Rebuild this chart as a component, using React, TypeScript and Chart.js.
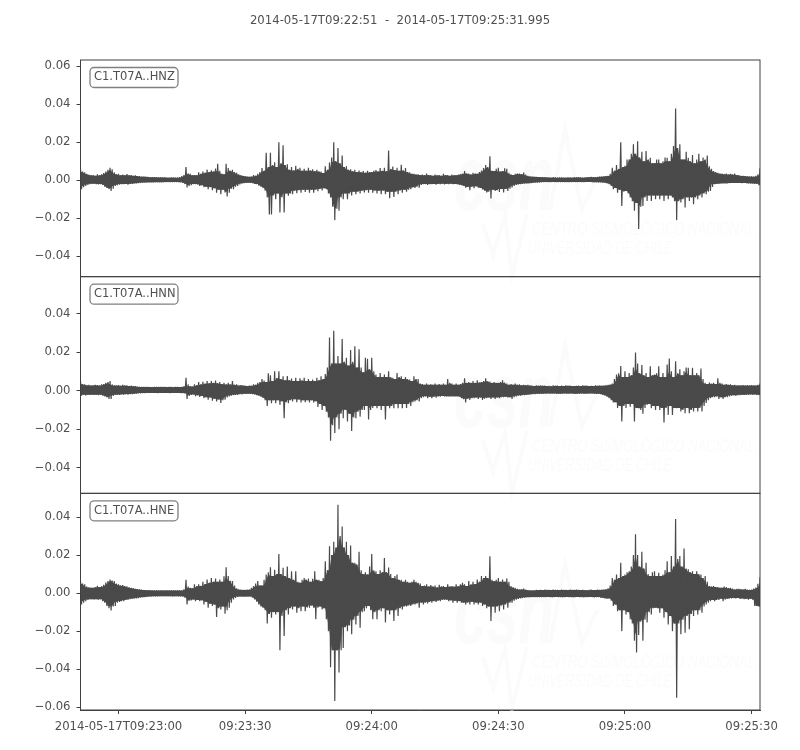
import React, { useEffect, useRef } from "react";
import { Chart, registerables } from "chart.js";

Chart.register(...registerables);

const TITLE = "2014-05-17T09:22:51  -  2014-05-17T09:25:31.995";
const CHANNELS = ["C1.T07A..HNZ", "C1.T07A..HNN", "C1.T07A..HNE"];
const TICK_SECONDS = [9, 39, 69, 99, 129, 159];
const TICK_LABELS = ["2014-05-17T09:23:00", "09:23:30", "09:24:00", "09:24:30", "09:25:00", "09:25:30"];
const Y_TICKS = [
  [0.06, 0.04, 0.02, 0, -0.02, -0.04],
  [0.04, 0.02, 0, -0.02, -0.04],
  [0.04, 0.02, 0, -0.02, -0.04, -0.06],
];
const Y_RANGES = [
  [-0.0508, 0.0634],
  [-0.0533, 0.0591],
  [-0.0615, 0.0525],
];
const SAMPLE_SECONDS = 0.5;

// Envelope of each trace, one value per half second (ten seconds a row), in thousandths of the axis unit.
const hnzUpper = [
  5.8,4.6,4.2,3.4,3.0,2.6,2.8,2.4,3.1,2.6,3.2,3.8,4.6,5.6,6.6,5.8,4.2,3.2,3.4,2.6,
  3.0,2.6,3.3,2.6,2.8,2.4,2.6,2.2,2.2,1.9,1.9,1.8,1.8,1.6,1.7,1.6,1.6,1.5,1.5,1.5,
  1.6,1.4,1.4,1.5,1.5,1.4,1.4,1.6,2.2,2.8,7.0,3.6,3.4,2.6,2.8,2.6,4.2,3.4,4.6,4.0,
  5.6,4.4,5.3,4.6,6.2,8.7,5.0,3.6,3.2,8.7,6.4,5.0,5.6,4.4,4.0,3.2,2.8,2.4,2.2,2.0,
  1.8,2.0,2.8,2.4,3.4,4.4,6.4,5.0,14.5,7,14.5,8,9.5,7,20,9,18.5,8,8.4,5.5,
  7.0,5.2,7.6,6.0,6.6,5.0,6.0,5.0,6.6,5.2,5.8,4.8,5.6,4.6,4.6,3.8,7.4,5.6,9.4,12,
  20,10,17,9,13,7,7.4,5.5,5.8,4.8,5.6,4.4,5.2,4.2,4.9,4.0,5.0,4.2,4.4,5.0,
  5.4,4.6,6.4,5.0,6.6,4.8,15.7,6,7.2,5.4,6.6,5.0,8.2,5.2,6.4,4.4,4.2,3.4,3.4,3.0,
  3.2,2.8,3.0,2.6,3.6,2.8,2.8,2.4,3.0,2.6,2.8,2.4,3.4,2.8,2.8,2.4,3.0,2.6,2.6,3.0,
  3.2,3.6,4.9,3.6,3.6,3.0,4.0,3.6,3.4,4.4,5.2,6.4,8.0,7.0,12.6,5.0,4.9,6.0,6.6,4.6,
  4.9,6.3,6.0,4.0,3.2,2.8,3.4,3.6,3.6,3.2,4.1,3.0,2.3,2.1,1.9,1.8,1.8,1.7,1.7,1.6,
  1.6,1.5,1.5,1.4,1.6,1.5,1.4,1.5,1.5,1.4,1.4,1.5,1.5,1.4,1.6,1.5,1.6,1.5,1.4,1.5,
  1.7,1.6,1.8,1.7,1.6,1.8,1.9,2.0,2.1,2.2,2.3,3.4,6.6,5,8,6,20,7,7.6,11,
  11,14,19,14,20.6,12,15,10,15.4,11,11.9,9,9.1,11,10.9,9,10,12,11.9,10,
  14,18,37.8,17,19,11,11,15,11.9,10,13.3,9,11,14,10,12,11,13,7.4,6,
  4.9,4.4,4.0,3.6,3.5,3.2,3.6,3.0,3.4,3.0,3.5,2.8,2.8,2.4,2.3,2.2,2.1,2.0,2.1,1.9,
  2.3,3.2,6.3,
];
const hnzLower = [
  -4.7,-3.6,-3.0,-2.4,-2.1,-1.8,-1.8,-2.0,-2.2,-2.0,-2.5,-3.4,-4.0,-4.6,-5.6,-4.4,-3.0,-2.6,-2.3,-2.0,
  -2.1,-1.9,-2.3,-1.9,-1.9,-1.7,-1.7,-1.5,-1.4,-1.3,-1.2,-1.2,-1.1,-1.1,-1.1,-1.0,-1.0,-1.0,-1.0,-1.0,
  -1.0,-0.9,-0.9,-1.0,-1.0,-0.9,-1.0,-1.0,-1.4,-2.0,-3.8,-3.0,-2.6,-2.0,-2.0,-2.2,-3.0,-2.6,-3.6,-3.4,
  -4.7,-3.6,-5.2,-4.2,-6.5,-5,-7.3,-5,-6.4,-8.6,-6.6,-4.5,-4.7,-3.4,-3.0,-2.2,-1.8,-1.5,-1.4,-1.3,
  -1.3,-1.5,-1.9,-2.0,-2.8,-3.4,-4.0,-5.5,-9,-18,-18,-8,-10,-7,-17,-9,-17,-7,-8.2,-7,
  -7.4,-5.5,-6.8,-5.2,-6.5,-5,-6.1,-5,-6.6,-5,-6.5,-5,-5.8,-4.6,-5.4,-4.2,-4.7,-7,-9,-14,
  -21,-15,-16,-9,-10,-7,-10,-7,-8,-6,-7.4,-6,-7,-5.5,-6.4,-5.2,-6.5,-5,-6.6,-5.4,
  -7,-5.5,-7.4,-5.4,-7.4,-6,-9.5,-6,-8.8,-6,-7.4,-5.4,-6.6,-5,-6,-5,-4.7,-3.8,-4,-3.4,
  -3.9,-2.4,-2.1,-2.0,-2.4,-2.0,-2.1,-1.9,-2.3,-1.9,-2,-1.8,-2.2,-1.9,-2,-1.8,-2.1,-1.9,-2.1,-2.3,
  -2.6,-3,-3.9,-3.5,-5.2,-3.4,-4.2,-3.2,-3.9,-4,-4.9,-5.5,-6.4,-6,-9.6,-5,-5.6,-5.2,-6.2,-4.6,
  -6.4,-4.6,-5.6,-4.4,-3.8,-3,-2.5,-2.2,-2.1,-1.9,-1.8,-1.6,-1.7,-1.5,-1.4,-1.3,-1.2,-1.1,-1,-1,
  -0.9,-0.9,-1,-0.9,-0.9,-1,-0.9,-0.9,-1,-0.9,-0.9,-0.9,-1,-0.9,-0.9,-1,-0.9,-0.9,-1,-0.9,
  -0.9,-0.9,-1.0,-1.0,-1.0,-1.1,-1.1,-1.2,-1.3,-1.6,-2.1,-3,-4.7,-4,-6.5,-5,-13.5,-6,-5.6,-7,
  -9.1,-11,-16,-12,-25.7,-14,-13.5,-9,-10.9,-8,-10.9,-8,-10,-8,-10,-8,-10.9,-8,-10,-8,
  -9.1,-11,-21,-11,-11.7,-10,-14.3,-9,-10.9,-9,-12.6,-9,-10,-8,-9.1,-7,-7.4,-6,-5.6,-3.5,
  -2.1,-1.9,-1.9,-1.7,-1.7,-1.6,-1.6,-1.5,-1.4,-1.4,-1.4,-1.4,-1.4,-1.5,-1.4,-1.5,-1.6,-1.7,-1.7,-1.8,
  -1.8,-2.6,-4.7,
];

const hnnUpper = [
  4.9,3.4,3.2,2.8,3.0,2.6,2.8,3.0,2.9,2.6,3.2,3.4,4.0,4.4,4.9,3.2,2.6,2.6,2.9,2.5,
  3.0,2.6,2.7,2.4,2.6,2.3,2.3,2.1,2.0,1.9,1.9,2.0,1.9,1.8,1.8,1.9,1.9,2.0,2.0,1.9,
  1.9,1.8,2.0,1.9,1.8,1.9,1.9,1.8,2.0,2.2,6.6,3.2,2.3,2.1,3.2,2.8,4.4,3.2,4.6,3.6,
  4.9,3.8,5.0,4.0,5.2,3.8,4.4,3.4,4.0,3.2,4.0,3.2,4.9,3.0,3.2,2.6,2.8,2.6,2.6,2.4,
  2.6,2.5,3.2,3.0,4.0,4.4,6.0,5.2,4.4,9,8.0,5,10,6.5,10,6,7.4,5.4,7.6,5.4,
  6.3,5,6.6,5,6.4,5.2,6.6,5,6.0,5,5.8,5,6.6,5.4,7.4,6,8.6,12,27.6,14,
  31,14,18,14,26.8,15,17,13,21,15,23,12,21.5,12,9.5,17,16.5,11,17,10,
  8.4,7,9.1,7,8.4,7,10,7,6.6,6,9.1,7,7.4,6,7,6,5.8,5,7.4,6,
  6,3.7,3.4,3.0,3.7,3.0,3.3,3.0,3.7,3.0,3.4,3.0,3.6,3.0,6,4.0,3.7,3.0,3.7,3.0,
  3.4,4,6.4,4,4.4,4,4.9,4,5.4,4.2,4.4,5,6.4,4.8,4.7,4,4.4,4,4.0,4.4,
  5.4,4.2,3.7,3.0,3.4,3.0,3.7,3.0,3.2,2.8,3.0,2.8,3.0,2.6,2.6,2.4,2.7,2.5,2.6,2.5,
  2.6,2.4,2.5,2.3,2.7,2.5,2.6,2.4,2.6,2.4,2.7,2.5,2.6,2.4,2.4,2.5,2.6,2.4,2.7,2.5,
  2.6,2.4,2.5,2.4,2.7,2.5,2.6,2.5,2.6,2.7,3.0,3.2,3.7,6,8.4,9,12.8,7,10,7,
  9.1,8,12,19.8,14,9,13.3,8,9.1,7,12.6,8,8.4,9,12.6,7,9.1,7,13.5,16.6,
  10,7,15.2,9,11,8,10,12,11.9,8,11.9,8,9.1,8,11.4,6,4.0,3.4,4.2,3.5,
  4.0,3.4,6.4,4,3.7,3,3.4,3,3.2,2.8,3,2.6,2.8,2.6,2.9,2.6,2.7,2.6,2.8,2.6,
  2.6,3,3.7,
];
const hnnLower = [
  -2.6,-2.2,-2.5,-2.2,-2.3,-2.1,-2.3,-2.1,-2.4,-2.2,-2.6,-3,-3.4,-4.3,-4.3,-2.8,-2.3,-2.1,-2.2,-2,
  -2.1,-1.9,-2.1,-1.8,-1.9,-1.7,-1.6,-1.5,-1.4,-1.3,-1.3,-1.2,-1.2,-1.2,-1.2,-1.2,-1.3,-1.2,-1.2,-1.2,
  -1.2,-1.2,-1.3,-1.2,-1.2,-1.2,-1.2,-1.3,-1.3,-1.5,-4.3,-2.8,-2.3,-2,-2.9,-2.4,-3.3,-2.8,-4,-3.4,
  -4.7,-3.6,-5.2,-4.2,-5.7,-4.6,-6.4,-5,-4.7,-3.6,-3.0,-2.6,-2.4,-2.2,-2.2,-1.9,-2,-1.7,-1.7,-1.6,
  -1.6,-1.8,-2,-2.4,-2.7,-3.2,-3.8,-5,-8,-5,-6.5,-5,-6.5,-5,-7.4,-5.5,-14.3,-6,-6.5,-5,
  -5.6,-4.5,-6,-4.6,-6.1,-5,-6,-5,-6.1,-5,-6.1,-5.5,-8.5,-7,-10,-8,-11,-14,-26,-18,
  -22,-14,-20,-12,-14.3,-10,-16,-12,-21,-14,-14.3,-11,-13.5,-10,-10,-8,-15,-10,-9,-8,
  -9.1,-8,-10,-8,-15,-8,-9.1,-8,-9.1,-7,-9.1,-7,-9.1,-7,-9,-7,-8,-6,-5.6,-5,
  -5.6,-4,-3.4,-3,-3.9,-3.2,-3.9,-3.2,-3.7,-3,-3.2,-2.8,-3,-3,-3,-3,-3.1,-3,-3,-3.2,
  -4,-4.5,-6.1,-4.2,-4.9,-4,-3.9,-3.6,-4.4,-3.6,-4.9,-4.2,-4,-3.6,-4.4,-3.6,-4.4,-3.6,-3.9,-3.4,
  -3.4,-3.2,-3.6,-3.4,-4.4,-3.4,-3,-2.7,-2.6,-2.4,-2.4,-2.2,-2.1,-2,-1.9,-1.8,-1.7,-1.6,-1.6,-1.6,
  -1.6,-1.5,-1.6,-1.6,-1.5,-1.6,-1.6,-1.7,-1.6,-1.5,-1.6,-1.6,-1.5,-1.6,-1.6,-1.7,-1.6,-1.5,-1.6,-1.6,
  -1.6,-1.5,-1.5,-1.6,-1.7,-1.7,-1.9,-2.2,-2.6,-3.2,-3.9,-5,-6.1,-6,-9,-8,-16,-8,-9,-7,
  -8.4,-7,-16,-9,-9.1,-10,-12,-9,-7.4,-7,-9.1,-8,-10,-8,-10,-9,-16.6,-9,-12.6,-8,
  -12.6,-9,-9.1,-9,-10.9,-10,-11.7,-9,-11.7,-10,-10.9,-9,-10.9,-9,-10.9,-8,-6.4,-5,-4,-3.4,
  -3.4,-3,-4.4,-3.4,-4.4,-3.4,-3.4,-3,-2.6,-2.4,-2.6,-2.4,-2.4,-2.2,-2.2,-2.1,-2.1,-2,-2.1,-2,
  -2.2,-2.3,-2.6,
];

const hneUpper = [
  6.3,5,4.6,3.4,3.0,2.8,2.8,3.2,3.8,3.2,3.6,4.4,5.6,6.4,7.2,6.6,6.3,5,4.6,4,
  4.3,3.6,3.6,3,2.8,2.6,2.3,2.1,2,1.8,1.6,1.6,1.5,1.5,1.5,1.4,1.4,1.5,1.5,1.4,
  1.4,1.5,1.5,1.4,1.4,1.5,1.4,1.5,1.4,2,7,3.4,2.8,2.5,4.6,3.6,4.6,3.8,5.9,4.8,
  7.2,5.4,8,6,7.7,6,7.2,6,8.8,13.6,9,6.5,6.3,4,2.5,2,1.8,1.7,1.7,1.8,
  1.9,2.8,3.7,5,6.3,4,4,7,9.8,11,13.6,9,12.3,10,20.6,10,13.3,9,14,8,
  11.5,7,11.5,6,5.4,7,8,7,7.7,6,7.5,11.5,7,7,6.3,8,16.8,12,24.7,20,
  27,24,46.5,30,35,24,27,20,25,16,16,15,21.7,12,10,11,9.8,14,20.6,12,
  11.5,10,12,11,18.5,11,13.5,10,8,9,9.8,7,7,6,7,6,5.4,6,7,6,
  5.4,5,3.7,4,4.6,3.5,4.3,3.5,4,3,4.4,3.5,3.7,3.2,4.6,3.5,3.7,3.4,4.6,3.6,
  4.6,5.4,4.6,3.7,6.3,4.5,5.9,4.8,7.2,6,9,8,9,8,19.4,7,6.3,7,8,6,
  7.2,6,7.7,6,3.7,3,2.8,2.2,1.9,2,2.4,1.9,1.6,1.5,1.4,1.5,1.7,1.6,1.7,1.6,
  1.8,1.7,1.7,1.6,1.8,1.7,1.7,1.6,1.8,1.7,1.7,1.6,1.8,1.7,1.7,1.8,1.7,1.6,1.7,1.6,
  1.5,1.7,1.8,1.6,1.6,1.8,1.7,1.8,1.9,2,2.5,4,8,7,9.8,8,16,9,9.8,11,
  11.5,14,20,31,20,14,21.7,13,16,10,9,11,11.5,9,10.7,9,9.8,12,16.8,11,
  19.5,14,39,18,19.5,14,23.5,13,12.6,11,11.5,10,11.5,10,9.8,8,9,6,3.7,3.4,
  3.7,3.2,3.2,2.8,2.8,3.4,3.2,2.6,2.8,2.4,1.9,2.2,2.3,2,1.9,2.2,1.9,1.7,1.9,2.4,
  3,4.9,8.4,
];
const hneLower = [
  -6,-5,-4.2,-3.6,-3.2,-3.2,-3.3,-3.2,-3.5,-3.2,-4.2,-5,-6.8,-8,-9.1,-7,-6.8,-5,-4.6,-4.2,
  -4.2,-3.6,-3.6,-3.2,-3,-2.8,-2.8,-2.6,-2.4,-2.2,-2.1,-2,-1.9,-1.8,-1.7,-1.7,-1.7,-1.6,-1.6,-1.6,
  -1.6,-1.6,-1.6,-1.7,-1.7,-1.6,-1.7,-1.7,-1.8,-2.4,-6,-4,-3.9,-3.4,-4.2,-3.6,-4.2,-3.8,-6,-4.6,
  -7.7,-5.6,-6.8,-6,-12.6,-8,-8.6,-7,-10.9,-9,-7.7,-5,-3.4,-2.6,-2,-1.8,-1.8,-1.8,-1.8,-1.8,
  -1.8,-2.4,-3.4,-4.5,-6,-7,-7.7,-9,-16,-11,-13,-10,-11.2,-10,-30,-12,-22.6,-9,-11.2,-8,
  -8.6,-7,-10.3,-8,-9.5,-7,-9.5,-7.5,-7.7,-6.5,-7.7,-13.8,-7.7,-7,-8.6,-8,-13.8,-20,-39,-30,
  -56.7,-30,-41.8,-30,-28.9,-18,-20,-17,-21.7,-14,-16.5,-12,-18.2,-10,-9.5,-8,-6.8,-9,-13.8,-10,
  -13.8,-9,-9.5,-8,-15.4,-9,-11.2,-9,-14.6,-9,-12,-8,-8.6,-7,-7,-6.5,-6.8,-6,-6,-5.5,
  -7.7,-5,-6,-5,-5.5,-4.6,-5,-4.2,-4.6,-4,-4.2,-3.6,-3.4,-3.5,-4.2,-3.8,-5,-4,-5,-4.2,
  -5,-5,-6,-5,-6,-4.6,-6,-5,-6,-5,-6.8,-6,-8,-7,-14.7,-7,-10.3,-7,-9.5,-6.5,
  -8.6,-6,-7.7,-5,-5,-4,-3.4,-3,-2.8,-2.6,-2.4,-2.2,-2.2,-2.1,-2.1,-2.1,-2.1,-2.1,-2.1,-2.1,
  -2.1,-2,-2.1,-2.2,-2.1,-2,-2.1,-2.1,-2.2,-2.1,-2,-2.1,-2.1,-2.2,-2.1,-2,-2.1,-2.1,-2.2,-2.1,
  -2.1,-2,-2.1,-2.2,-2.1,-2.1,-2.4,-2.5,-2.8,-2.8,-2.8,-4,-6.8,-6,-9.5,-9,-20,-9,-11.2,-10,
  -13.8,-16,-25,-31.3,-22,-15,-25,-14,-15.4,-10,-11.2,-8,-7.7,-8,-10.3,-8,-13,-10,-16.5,-12,
  -20,-16,-55,-16,-21.7,-14,-20.8,-12,-19,-11,-12,-9,-11.2,-9,-10.3,-7,-6,-5,-4.2,-3.6,
  -4.2,-3.6,-3.6,-3,-4.2,-3.4,-3,-2.8,-2.8,-2.6,-2.8,-2.6,-3,-2.8,-3.2,-3,-3.4,-3,-3.4,-6.8,
  -6.8,-7,-8,
];

const UPPER = [hnzUpper, hnnUpper, hneUpper];
const LOWER = [hnzLower, hnnLower, hneLower];

const INK = "#4a4a4a";
const TEXT_INK = "#505050";
const FONT = '"DejaVu Sans"';
const FONT_SIZE = 11.7;
const WATERMARK = "#fbfbfb";
const formatTick = (v: number) => (v < 0 ? "\u2212" : "") + Math.abs(v).toFixed(2);

// The solid body under the spikes: at each sample, the smallest amplitude of it and its neighbours.
const coreOf = (arr: number[]) =>
  arr.map((v, k) => {
    const near = [arr[k - 1] ?? v, v, arr[k + 1] ?? v].map(Math.abs);
    return (Math.sign(v) * Math.min(...near)) / 1000;
  });

function fitText(ctx: any, text: string, x: number, y: number, width: number) {
  ctx.save();
  ctx.translate(x, y);
  ctx.scale(width / ctx.measureText(text).width, 1);
  ctx.fillText(text, 0, 0);
  ctx.restore();
}

const decorations = {
  id: "decorations",
  beforeDatasetsDraw(chart: any) {
    const ctx = chart.ctx;
    [0, 1, 2].forEach((i) => {
      const s = chart.scales["y" + i];
      const top = s.top;
      ctx.save();
      ctx.fillStyle = WATERMARK;
      ctx.strokeStyle = WATERMARK;
      ctx.textBaseline = "alphabetic";
      ctx.font = 'italic bold 92px "Liberation Sans"';
      fitText(ctx, "csn", 454, top + 150, 100);
      ctx.font = 'italic 18px "Liberation Sans"';
      fitText(ctx, "CENTRO SISMOLÓGICO NACIONAL", 532, top + 175, 223);
      fitText(ctx, "UNIVERSIDAD DE CHILE", 528, top + 194, 144);
      ctx.lineWidth = 4;
      ctx.beginPath();
      ctx.moveTo(550, top + 150);
      ctx.lineTo(565, top + 70);
      ctx.lineTo(582, top + 150);
      ctx.lineTo(597, top + 117);
      ctx.moveTo(483, top + 164);
      ctx.lineTo(493, top + 195);
      ctx.lineTo(505, top + 155);
      ctx.lineTo(512, top + 215);
      ctx.lineTo(527, top + 154);
      ctx.stroke();
      ctx.restore();
    });
  },
  afterDatasetsDraw(chart: any) {
    const ctx = chart.ctx;
    const { left, right } = chart.chartArea;
    ctx.save();
    ctx.fillStyle = TEXT_INK;
    ctx.font = `${FONT_SIZE}px ${FONT}`;
    ctx.textAlign = "center";
    ctx.textBaseline = "middle";
    ctx.fillText(TITLE, 400, 20.5);
    ctx.restore();
    [0, 1, 2].forEach((i) => {
      const s = chart.scales["y" + i];
      ctx.save();
      ctx.strokeStyle = "#404040";
      ctx.lineWidth = 1;
      ctx.strokeRect(left, s.top, right - left, s.bottom - s.top);
      const bx = left + 9.5;
      const by = s.top + 7.5;
      ctx.beginPath();
      ctx.roundRect(bx, by, 88, 20, 4);
      ctx.fillStyle = "#ffffff";
      ctx.fill();
      ctx.strokeStyle = "#808080";
      ctx.lineWidth = 1.3;
      ctx.stroke();
      ctx.fillStyle = TEXT_INK;
      ctx.font = `11.5px ${FONT}`;
      ctx.textAlign = "left";
      ctx.textBaseline = "middle";
      ctx.fillText(CHANNELS[i], bx + 4, by + 10);
      ctx.restore();
    });
  },
};

export default function App() {
  const ref = useRef<HTMLCanvasElement>(null);
  useEffect(() => {
    const datasets: any[] = [];
    const scales: any = {
      x: {
        type: "linear",
        min: 0,
        max: 160.995,
        afterFit: (a: any) => {
          a.height = 40;
        },
        afterBuildTicks: (a: any) => {
          a.ticks = TICK_SECONDS.map((value) => ({ value }));
        },
        border: { color: "#404040" },
        grid: { drawOnChartArea: false, tickLength: 4, tickColor: "#404040", tickWidth: 1 },
        ticks: {
          autoSkip: false,
          maxRotation: 0,
          padding: 6,
          color: TEXT_INK,
          font: { family: FONT, size: FONT_SIZE },
          callback: (v: number) => TICK_LABELS[TICK_SECONDS.indexOf(v)],
        },
      },
    };
    [2, 1, 0].forEach((i) => {
      const yId = "y" + i;
      const trace: { x: number; y: number }[] = [];
      UPPER[i].forEach((v, k) => {
        const t = k * SAMPLE_SECONDS;
        trace.push({ x: t, y: v / 1000 });
        trace.push({ x: t + SAMPLE_SECONDS / 2, y: LOWER[i][k] / 1000 });
      });
      const coreUp = coreOf(UPPER[i]).map((y, k) => ({ x: k * SAMPLE_SECONDS, y }));
      const coreLo = coreOf(LOWER[i]).map((y, k) => ({ x: k * SAMPLE_SECONDS, y }));
      datasets.push({
        data: trace, xAxisID: "x", yAxisID: yId, borderColor: INK, borderWidth: 1.2,
        pointRadius: 0, tension: 0, fill: false, borderJoinStyle: "bevel",
      });
      datasets.push({
        data: coreUp, xAxisID: "x", yAxisID: yId, borderWidth: 0, borderColor: INK,
        backgroundColor: INK, pointRadius: 0, tension: 0, fill: "+1",
      });
      datasets.push({
        data: coreLo, xAxisID: "x", yAxisID: yId, borderWidth: 0, borderColor: INK,
        pointRadius: 0, tension: 0, fill: false,
      });
      scales[yId] = {
        type: "linear",
        position: "left",
        stack: "traces",
        stackWeight: 1,
        min: Y_RANGES[i][0],
        max: Y_RANGES[i][1],
        afterFit: (a: any) => {
          a.width = 80.5;
        },
        afterBuildTicks: (a: any) => {
          a.ticks = Y_TICKS[i].map((value) => ({ value }));
        },
        border: { color: "#404040" },
        grid: { drawOnChartArea: false, tickLength: 4, tickColor: "#404040", tickWidth: 1 },
        ticks: {
          padding: 6,
          color: TEXT_INK,
          font: { family: FONT, size: FONT_SIZE },
          callback: (v: number) => formatTick(v),
        },
      };
    });
    const chart = new Chart(ref.current as HTMLCanvasElement, {
      type: "line",
      data: { datasets },
      plugins: [decorations],
      options: {
        animation: false,
        responsive: false,
        layout: { padding: { left: 0, right: 40, top: 60, bottom: 0 } },
        plugins: { legend: { display: false }, tooltip: { enabled: false } },
        scales,
      },
    } as any);
    return () => chart.destroy();
  }, []);
  return (
    <div style={{ position: "absolute", left: 0, top: 0, width: 800, height: 750 }}>
      <canvas ref={ref} width={800} height={750} style={{ display: "block" }} />
    </div>
  );
}
